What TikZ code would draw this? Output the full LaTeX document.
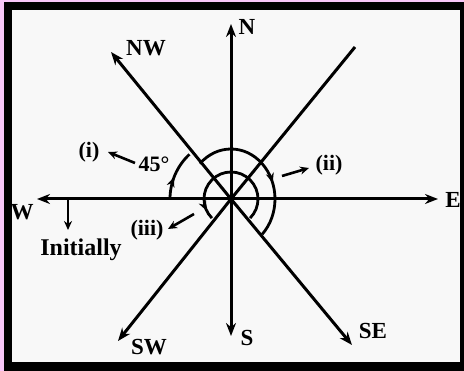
\documentclass[tikz,border=0pt]{standalone}
\usepackage{fontspec}
\setmainfont{Liberation Serif}
\usetikzlibrary{arrows.meta,decorations.markings,calc}
\definecolor{pinkbg}{RGB}{248,198,248}
\definecolor{paper}{RGB}{248,248,248}
\tikzset{
  axis/.style={line width=3pt,-{Stealth[length=13pt,width=10pt]}},
  plain/.style={line width=3pt},
  lab/.style={font=\bfseries\fontsize{23}{26}\selectfont,inner sep=0pt},
  small/.style={font=\bfseries\fontsize{22}{26}\selectfont,inner sep=0pt},
  ptr/.style={line width=2.6pt,-{Stealth[length=9pt,width=8pt]}},
  arcline/.style={line width=2.8pt},
  midtip/.style={postaction={decorate},decoration={markings,
     mark=at position #1 with {\arrow{Stealth[length=10pt,width=8pt]}}}}
}
\begin{document}
\begin{tikzpicture}[x=1pt,y=1pt]
\useasboundingbox (0,0) rectangle (464,371);
\fill[pinkbg] (0,0) rectangle (464,371);
\fill[black] (4,0) rectangle (464,369);
\fill[paper] (12,9) rectangle (460,361);

\coordinate (O) at (231,172);
\coordinate (Nt) at (231,347);
\coordinate (St) at (231,35);
\coordinate (Et) at (438,172);
\coordinate (Wt) at (37,172);
\coordinate (NWt) at (111,319);
\coordinate (NEt) at (355,324);
\coordinate (SWt) at (118,30);
\coordinate (SEt) at (352,26);

\draw[axis] (O) -- (Nt);
\draw[axis] (O) -- (St);
\draw[axis] (O) -- (Et);
\draw[axis] (O) -- (Wt);
\draw[axis] (O) -- (NWt);
\draw[plain] (O) -- (NEt);
\draw[axis] (O) -- (SWt);
\draw[axis] (O) -- (SEt);

\node[lab] (N) at (247,344) {N};
\node[lab] (NW) at (146,323) {NW};
\node[lab] (SW) at (149,24) {SW};
\node[lab] (S) at (247,33) {S};
\node[lab] (SE) at (373,40) {SE};
\node[lab] (E) at (453,171) {E};
\node[lab] (W) at (22,159) {W};

% Initially
\coordinate (ia) at (68,172);
\coordinate (ib) at (68,141);
\draw[ptr] (ia) -- (ib);
\node[lab,font=\bfseries\fontsize{24}{26}\selectfont] (init) at (81,121) {Initially};

% arcs
\draw[arcline,midtip=0.45] ($(O)+(180:61)$) arc[start angle=180,end angle=133,radius=61];
\draw[arcline,midtip=0.63] ($(O)+(135:44 and 50)$) arc[start angle=135,end angle=-45,x radius=44,y radius=50];
\draw[arcline,midtip=0.93] ($(O)+(-45:27)$) arc[start angle=-45,end angle=225,radius=27];

% labels with pointers
\node[small] (i) at (89,219) {(i)};
\coordinate (pia) at (135,208);
\coordinate (pib) at (108,219);
\draw[ptr] (pia) -- (pib);
\node[small] (deg) at (154,207) {45°};

\node[small] (ii) at (329,206) {(ii)};
\coordinate (piia) at (282,195);
\coordinate (piib) at (309,203);
\draw[ptr] (piia) -- (piib);

\node[small] (iii) at (147,141) {(iii)};
\coordinate (piiia) at (194,157);
\coordinate (piiib) at (168,142);
\draw[ptr] (piiia) -- (piiib);
\end{tikzpicture}
\end{document}
